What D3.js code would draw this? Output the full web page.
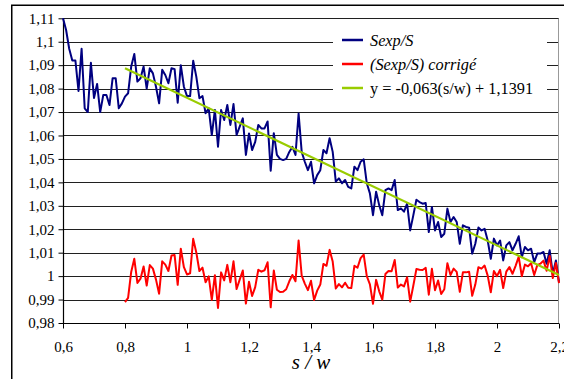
<!DOCTYPE html>
<html><head><meta charset="utf-8">
<script src="https://cdn.jsdelivr.net/npm/d3@7"></script>
<style>body{margin:0;background:#fff}svg{display:block}</style>
</head><body><svg id="c" width="564" height="379"></svg>
<script>
// s/w sampling of the measured series
const sexpStart = 0.6, step = 0.01;
const sexp = [1.110,1.105,1.097,1.092,1.092,1.079,1.097,1.0716,1.070,1.091,
1.076,1.082,1.070,1.0773,1.0773,1.073,1.0844,1.0844,1.0716,1.0737,
1.0766,1.078,1.0894,1.0948,1.083,1.0844,1.0894,1.080,1.0887,1.0865,
1.0808,1.0737,1.088,1.0858,1.0823,1.0887,1.0883,1.074,1.090,1.0808,
1.0768,1.0768,1.0919,1.0851,1.0759,1.0768,1.0695,1.0716,1.0602,1.0709,
1.0552,1.0709,1.0666,1.073,1.0645,1.0734,1.0602,1.0638,1.0673,1.0517,
1.0609,1.0538,1.0573,1.0645,1.063,1.063,1.066,1.045,1.061,1.0517,
1.050,1.0495,1.050,1.053,1.0552,1.0517,1.0694,1.053,1.0488,1.0452,
1.0488,1.0396,1.0431,1.0452,1.0538,1.0524,1.0588,1.053,1.0403,1.0417,
1.0396,1.041,1.0381,1.0374,1.0467,1.0452,1.0488,1.0498,1.0396,1.0353,
1.026,1.036,1.0303,1.026,1.0367,1.0374,1.0367,1.041,1.0282,1.0289,
1.0275,1.0309,1.0195,1.0259,1.0326,1.0316,1.0309,1.0312,1.0188,1.0295,
1.0195,1.0231,1.0167,1.0181,1.0288,1.0231,1.0252,1.0231,1.0138,1.0217,
1.021,1.0207,1.0096,1.0138,1.0207,1.0195,1.0202,1.0152,1.0074,1.016,
1.0131,1.0152,1.0067,1.0131,1.0145,1.011,1.0138,1.017,1.0081,1.0124,
1.011,1.0117,1.006,1.0096,1.0096,1.0103,1.0053,1.011,1.001,1.0067,
0.9975];
const corrStart = 0.8;
const corr = [0.9889,0.9907,1.0018,1.0074,0.9971,0.9989,1.0041,0.9960,1.0047,1.0032,
0.9985,0.9925,1.0063,1.0049,1.0022,1.0088,1.0090,0.9963,1.0117,1.0038,
1.0007,1.0012,1.0159,1.0101,1.0022,1.0036,0.9974,0.9999,0.9899,1.0004,
0.9864,1.0016,0.9982,1.0048,0.9974,1.0063,0.9945,0.9985,1.0024,0.9883,
0.9976,0.9915,0.9953,1.0027,1.0019,1.0025,1.0059,0.9867,1.0024,0.9942,
0.9932,0.9933,0.9944,0.9978,1.0005,0.9978,1.0152,1.0002,0.9968,0.9940,
0.9980,0.9898,0.9938,0.9964,1.0052,1.0044,1.0112,1.0062,0.9947,0.9966,
0.9952,0.9972,0.9950,0.9949,1.0044,1.0036,1.0077,1.0092,1.0000,0.9965,
0.9882,0.9984,0.9935,0.9900,1.0009,1.0022,1.0021,1.0069,0.9951,0.9964,
0.9956,0.9995,0.9891,0.9959,1.0030,1.0027,1.0026,1.0035,0.9921,1.0031,
0.9940,0.9981,0.9924,0.9944,1.0055,1.0005,1.0032,1.0018,0.9933,1.0016,
1.0016,1.0019,0.9916,0.9964,1.0038,1.0032,1.0045,1.0002,0.9931,1.0022,
1.0000,1.0027,0.9949,1.0019,1.0039,1.0010,1.0044,1.0082,1.0000,1.0049,
1.0042,1.0055,1.0005,1.0047,1.0053,1.0066,1.0023,1.0086,0.9992,1.0056,
0.9970];
const trendX = [0.8, 2.2];
const trendY = [1.0887, 1.0005];
const xTicks = [0.6,0.8,1,1.2,1.4,1.6,1.8,2,2.2];
const xTickLabels = ["0,6","0,8","1","1,2","1,4","1,6","1,8","2","2,2"];
const yTicks = [0.98,0.99,1,1.01,1.02,1.03,1.04,1.05,1.06,1.07,1.08,1.09,1.1,1.11];
const yTickLabels = ["0,98","0,99","1","1,01","1,02","1,03","1,04","1,05","1,06","1,07","1,08","1,09","1,1","1,11"];
const legendLabels = ["Sexp/S","(Sexp/S) corrigé","y = -0,063(s/w) + 1,1391"];
const legendItalic = [true,true,false];
const seriesColors = ["#000080","#ff0000","#99cc00"];
const xTitle = "s / w";

const FONT = '"Liberation Serif"';
const svg = d3.select("#c");
const x = d3.scaleLinear().domain([0.6,2.2]).range([63,559]);
const y = d3.scaleLinear().domain([0.98,1.11]).range([323,18.3]);

// outer chart border (top & left visible)
svg.append("rect").attr("x",11.75).attr("y",5.25).attr("width",700).attr("height",500)
  .attr("fill","none").attr("stroke","#000").attr("stroke-width",1.5);

// gridlines
svg.append("g").selectAll("line").data(yTicks.filter(d=>d>0.985)).join("line")
  .attr("x1",63).attr("x2",559)
  .attr("y1",d=>Math.round(y(d))+0.5).attr("y2",d=>Math.round(y(d))+0.5)
  .attr("stroke","#202020").attr("stroke-width",1);
// right border of plot area
svg.append("line").attr("x1",558.5).attr("x2",558.5).attr("y1",Math.round(y(1.11))+0.5).attr("y2",323)
  .attr("stroke","#999").attr("stroke-width",1);

// legend box (white, hides gridlines)
const lg = svg.append("g");
lg.append("rect").attr("x",333).attr("y",24).attr("width",214).attr("height",82).attr("fill","#fff");
const legendY = [40, 64, 88];
legendLabels.forEach((t,i)=>{
  lg.append("line").attr("x1",342).attr("x2",363).attr("y1",legendY[i]).attr("y2",legendY[i])
    .attr("stroke",seriesColors[i]).attr("stroke-width",2.5);
  lg.append("text").attr("x",370).attr("y",legendY[i]+6).text(t)
    .style("font-family",FONT).attr("font-size",16.3)
    .attr("font-style",legendItalic[i]?"italic":"normal").attr("fill","#000");
});

// axes
const yAxis = d3.axisLeft(y).tickValues(yTicks).tickSize(5).tickPadding(4)
  .tickFormat((d,i)=>yTickLabels[i]);
const gy = svg.append("g").attr("transform","translate(63.5,0)").call(yAxis);
const xAxis = d3.axisBottom(x).tickValues(xTicks).tickSize(5).tickPadding(13)
  .tickFormat((d,i)=>xTickLabels[i]);
const gx = svg.append("g").attr("transform","translate(0,323.5)").call(xAxis);
[gx,gy].forEach(g=>{
  g.selectAll("text").style("font-family",FONT).attr("font-size",15).attr("fill","#000");
  g.selectAll("line").attr("stroke","#000");
  g.select(".domain").attr("stroke","#000").attr("stroke-width",1.2);
});
gx.select(".domain").attr("d","M63,0H559");
gy.select(".domain").attr("d",`M0,${y(1.11)}V${323}`);

// series
const line = d3.line().x(d=>x(d[0])).y(d=>y(d[1]));
const sexpPts = sexp.map((v,i)=>[sexpStart+i*step, v]);
const corrPts = corr.map((v,i)=>[corrStart+i*step, v]);
const trendPts = trendX.map((v,i)=>[v, trendY[i]]);
const plot = svg.append("g");
plot.append("path").datum(sexpPts).attr("d",line).attr("fill","none")
  .attr("stroke",seriesColors[0]).attr("stroke-width",2).attr("stroke-linejoin","round");
plot.append("path").datum(corrPts).attr("d",line).attr("fill","none")
  .attr("stroke",seriesColors[1]).attr("stroke-width",2).attr("stroke-linejoin","round");
plot.append("path").datum(trendPts).attr("d",line).attr("fill","none")
  .attr("stroke",seriesColors[2]).attr("stroke-width",2.2);

// x title
svg.append("text").attr("x",311).attr("y",369).attr("text-anchor","middle")
  .style("font-family",FONT).attr("font-style","italic").attr("font-size",21).text(xTitle);
</script>
</body></html>
